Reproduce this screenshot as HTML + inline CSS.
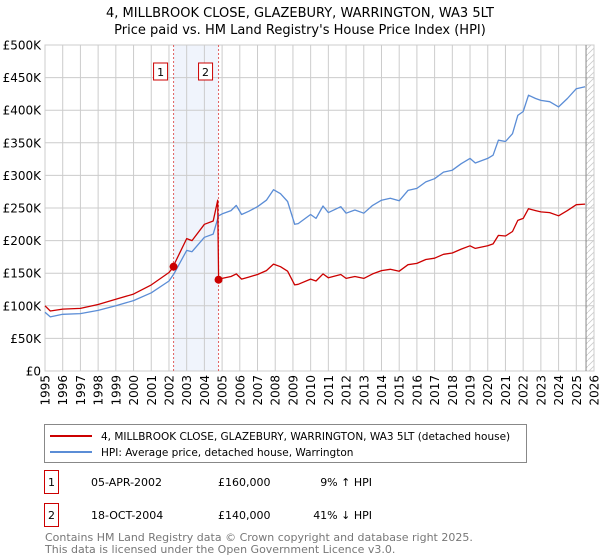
<!DOCTYPE html>
<html><head><meta charset="utf-8"><style>
body{margin:0;background:#fff;font-family:"Liberation Sans","DejaVu Sans",sans-serif;}
#wrap{position:relative;width:600px;height:560px;overflow:hidden;}
svg text{font-family:"DejaVu Sans","Liberation Sans",sans-serif;}
</style></head><body><div id="wrap">
<svg id="chart" width="600" height="560"></svg>
</div>
<script>
const hpiDates=[1995,1995.3,1996,1997,1998,1999,2000,2001,2002,2002.3,2003,2003.3,2004,2004.5,2004.8,2005,2005.5,2005.8,2006.1,2006.5,2007,2007.5,2007.9,2008.3,2008.7,2009.1,2009.3,2010,2010.3,2010.7,2011,2011.7,2012,2012.5,2013,2013.5,2014,2014.5,2015,2015.5,2016,2016.5,2017,2017.5,2018,2018.5,2019,2019.3,2020,2020.3,2020.6,2021,2021.4,2021.7,2022,2022.3,2022.7,2023,2023.5,2024,2024.5,2025,2025.5];
const hpiValues=[90,83,87,88,93,100,108,120,138,150,185,183,205,210,238,241,246,254,240,245,252,262,278,272,260,225,226,240,234,253,243,252,242,247,242,254,262,265,261,277,280,290,295,305,308,318,326,319,326,331,354,352,364,392,398,423,418,415,413,405,418,433,436];
const propDates=[1995,1995.3,1996,1997,1998,1999,2000,2001,2002,2002.26,2002.3,2003,2003.3,2004,2004.5,2004.75,2004.8,2005,2005.5,2005.8,2006.1,2006.5,2007,2007.5,2007.9,2008.3,2008.7,2009.1,2009.3,2010,2010.3,2010.7,2011,2011.7,2012,2012.5,2013,2013.5,2014,2014.5,2015,2015.5,2016,2016.5,2017,2017.5,2018,2018.5,2019,2019.3,2020,2020.3,2020.6,2021,2021.4,2021.7,2022,2022.3,2022.7,2023,2023.5,2024,2024.5,2025,2025.5];
const propValues=[100,92,95,96,102,110,118,132,151,160,164,203,200,225,230,262,140,142,145,149,141,144,148,154,164,160,153,132,133,141,138,149,143,148,142,145,142,149,154,156,153,163,165,171,173,179,181,187,192,188,192,195,208,207,214,231,234,249,246,244,243,238,246,255,256];
const saleDates=[2002.26,2004.8];
const salePrices=[160,140];
const saleLabels=["1","2"];
const yTicks=[0,50,100,150,200,250,300,350,400,450,500];
const yTickLabels=["£0","£50K","£100K","£150K","£200K","£250K","£300K","£350K","£400K","£450K","£500K"];
const xYears=[1995,1996,1997,1998,1999,2000,2001,2002,2003,2004,2005,2006,2007,2008,2009,2010,2011,2012,2013,2014,2015,2016,2017,2018,2019,2020,2021,2022,2023,2024,2025,2026];

const NS="http://www.w3.org/2000/svg";
const svg=document.getElementById('chart');
const L=45,R=594,T=45,B=371;
function X(y){return L+(y-1995)/(2026-1995)*(R-L);}
function Y(v){return B-v/500*(B-T);}
function el(tag,attrs,parent){const e=document.createElementNS(NS,tag);for(const k in attrs)e.setAttribute(k,attrs[k]);(parent||svg).appendChild(e);return e;}
function txt(s,attrs,parent){const e=el('text',attrs,parent);e.textContent=s;return e;}

let t=txt("4, MILLBROOK CLOSE, GLAZEBURY, WARRINGTON, WA3 5LT",{x:300,y:17,'text-anchor':'middle','font-size':13,fill:'#000'});

t=txt("Price paid vs. HM Land Registry's House Price Index (HPI)",{x:300,y:34,'text-anchor':'middle','font-size':13,fill:'#000'});


const defs=el('defs',{});
const pat=el('pattern',{id:'hatch',width:6,height:6,patternUnits:'userSpaceOnUse'},defs);
el('path',{d:'M0,6 L6,0',stroke:'#ccc','stroke-width':0.8},pat);
let hz=el('rect',{x:X(2025.55),y:T,width:R-X(2025.55),height:B-T,fill:'url(#hatch)'});


let sh=el('rect',{x:X(saleDates[0]),y:T,width:X(saleDates[1])-X(saleDates[0]),height:B-T,fill:'#f0f4fc'});


const grid=el('g',{});

yTicks.forEach((v,i)=>{
 el('line',{x1:L,x2:R,y1:Y(v),y2:Y(v),stroke:'#ccc','stroke-width':1},grid);
 const lb=txt(yTickLabels[i],{x:L-4,y:Y(v)+4.5,'text-anchor':'end','font-size':12,fill:'#000'});
 
});
xYears.forEach(yr=>{
 el('line',{x1:X(yr),x2:X(yr),y1:T,y2:B,stroke:'#ccc','stroke-width':1},grid);
 const lb=txt(String(yr),{x:X(yr)+4.5,y:B+4,'text-anchor':'end','font-size':12,fill:'#000',transform:`rotate(-90 ${X(yr)+4.5} ${B+4})`});
 
});
let fb=el('rect',{x:L,y:T,width:R-L,height:B-T,fill:'none',stroke:'#ccc'});

let now=el('line',{x1:X(2025.55),x2:X(2025.55),y1:T,y2:B,stroke:'#888','stroke-width':1});


saleDates.forEach((d,i)=>{
 const ln=el('line',{x1:X(d),x2:X(d),y1:T,y2:B,stroke:'#e06060','stroke-width':1,'stroke-dasharray':'2,2'});
 
 const g=el('g',{});
 
 el('rect',{x:X(d)-20,y:63,width:14,height:17,fill:'#fff',stroke:'#c00'},g);
 txt(saleLabels[i],{x:X(d)-13,y:76,'text-anchor':'middle','font-size':11,fill:'#000'},g);
});

function line(dates,vals,color,name){
 const p=el('polyline',{points:dates.map((d,i)=>X(d).toFixed(1)+','+Y(vals[i]).toFixed(1)).join(' '),fill:'none',stroke:color,'stroke-width':1.3,'stroke-linejoin':'round'});
 
}
line(hpiDates,hpiValues,'#5b8dd6','hpi-line');
line(propDates,propValues,'#cc0000','property-price-line');
saleDates.forEach((d,i)=>{
 const c=el('circle',{cx:X(d),cy:Y(salePrices[i]),r:4,fill:'#cc0000'});
 
});

const lg=el('g',{});

el('rect',{x:44.5,y:424.5,width:482,height:38,fill:'#fff',stroke:'#888'},lg);
el('line',{x1:50,x2:92,y1:436,y2:436,stroke:'#cc0000','stroke-width':2},lg);
txt("4, MILLBROOK CLOSE, GLAZEBURY, WARRINGTON, WA3 5LT (detached house)",{x:101,y:440,'font-size':10.5,fill:'#000'},lg);
el('line',{x1:50,x2:92,y1:452,y2:452,stroke:'#5b8dd6','stroke-width':2},lg);
txt("HPI: Average price, detached house, Warrington",{x:101,y:456,'font-size':10.5,fill:'#000'},lg);

const rows=[["1","05-APR-2002","£160,000","9% ↑ HPI",482],["2","18-OCT-2004","£140,000","41% ↓ HPI",515]];
rows.forEach(r=>{
 const g=el('g',{});
 
 el('rect',{x:44.5,y:r[4]-11.5,width:14,height:23,fill:'#fff',stroke:'#c00'},g);
 txt(r[0],{x:51.5,y:r[4]+4,'text-anchor':'middle','font-size':11,fill:'#000'},g);
 txt(r[1],{x:91,y:r[4]+4,'font-size':11,fill:'#000'},g);
 txt(r[2],{x:218,y:r[4]+4,'font-size':11,fill:'#000'},g);
 txt(r[3],{x:372,y:r[4]+4,'text-anchor':'end','font-size':11,fill:'#000'},g);
});
t=txt("Contains HM Land Registry data © Crown copyright and database right 2025.",{x:45,y:541,'font-size':11,fill:'#777'});

t=txt("This data is licensed under the Open Government Licence v3.0.",{x:45,y:553,'font-size':11,fill:'#777'});

</script></body></html>
